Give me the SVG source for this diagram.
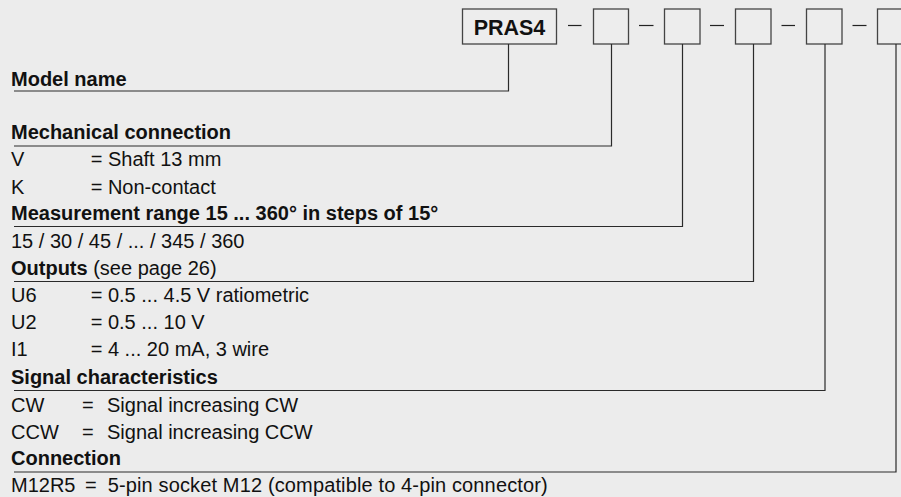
<svg xmlns="http://www.w3.org/2000/svg" width="901" height="497" viewBox="0 0 901 497">
<style>
text{font-family:"Liberation Sans",Arial,sans-serif;font-size:20px;fill:#111}
.b{font-weight:bold}
.box{fill:#ededed;stroke:#444;stroke-width:1.3}
.dash{stroke:#222;stroke-width:1.2}
.con{fill:none;stroke:#2a2a2a;stroke-width:1.2}
</style>
<rect width="901" height="497" fill="#ececec"/>
<g id="code">
<g id="box-model"><rect class="box" x="462.5" y="9" width="94" height="35"/><text class="b" x="509.5" y="35" text-anchor="middle" style="font-size:21.5px">PRAS4</text></g>
<line class="dash" x1="568" y1="25.5" x2="581.5" y2="25.5"/>
<g id="box-mech"><rect class="box" x="593.5" y="9" width="35" height="35"/></g>
<line class="dash" x1="639" y1="25.5" x2="653.5" y2="25.5"/>
<g id="box-range"><rect class="box" x="664.5" y="9" width="35.5" height="35"/></g>
<line class="dash" x1="710" y1="25.5" x2="724" y2="25.5"/>
<g id="box-output"><rect class="box" x="735.5" y="9" width="35.5" height="35"/></g>
<line class="dash" x1="781.5" y1="25.5" x2="795" y2="25.5"/>
<g id="box-signal"><rect class="box" x="806.5" y="9" width="35.5" height="35"/></g>
<line class="dash" x1="852.5" y1="25.5" x2="866.5" y2="25.5"/>
<g id="box-conn"><rect class="box" x="877.5" y="9" width="35.5" height="35"/></g>
</g>
<g id="connectors">
<polyline class="con" points="508.5,44 508.5,91 14,91"/>
<polyline class="con" points="611.5,44 611.5,146 14,146"/>
<polyline class="con" points="682.5,44 682.5,226.5 14,226.5"/>
<polyline class="con" points="753.5,44 753.5,281.5 14,281.5"/>
<polyline class="con" points="825,44 825,390.5 14,390.5"/>
<polyline class="con" points="896,44 896,472 14,472"/>
</g>
<g id="legend-model"><text class="b" x="11" y="85.5">Model name</text></g>
<g id="legend-mech">
<text class="b" x="11" y="138.5">Mechanical connection</text>
<text x="11" y="166">V</text><text x="90.7" y="166">= Shaft 13 mm</text>
<text x="11" y="193.5">K</text><text x="90.7" y="193.5">= Non-contact</text>
</g>
<g id="legend-range">
<text class="b" x="11" y="220">Measurement range 15 ... 360° in steps of 15°</text>
<text x="11" y="248">15 / 30 / 45 / ... / 345 / 360</text>
</g>
<g id="legend-output">
<text x="11" y="275"><tspan class="b">Outputs</tspan> (see page 26)</text>
<text x="11" y="302">U6</text><text x="90.7" y="302">= 0.5 ... 4.5 V ratiometric</text>
<text x="11" y="329">U2</text><text x="90.7" y="329">= 0.5 ... 10 V</text>
<text x="11" y="356">I1</text><text x="90.7" y="356">= 4 ... 20 mA, 3 wire</text>
</g>
<g id="legend-signal">
<text class="b" x="11" y="384">Signal characteristics</text>
<text x="11" y="412">CW</text><text x="82" y="412">=</text><text x="107" y="412">Signal increasing CW</text>
<text x="11" y="439">CCW</text><text x="82" y="439">=</text><text x="107" y="439">Signal increasing CCW</text>
</g>
<g id="legend-conn">
<text class="b" x="11" y="465">Connection</text>
<text x="11" y="492">M12R5</text><text x="85" y="492">=</text><text x="107.7" y="492" textLength="440" lengthAdjust="spacing">5-pin socket M12 (compatible to 4-pin connector)</text>
</g>
</svg>
